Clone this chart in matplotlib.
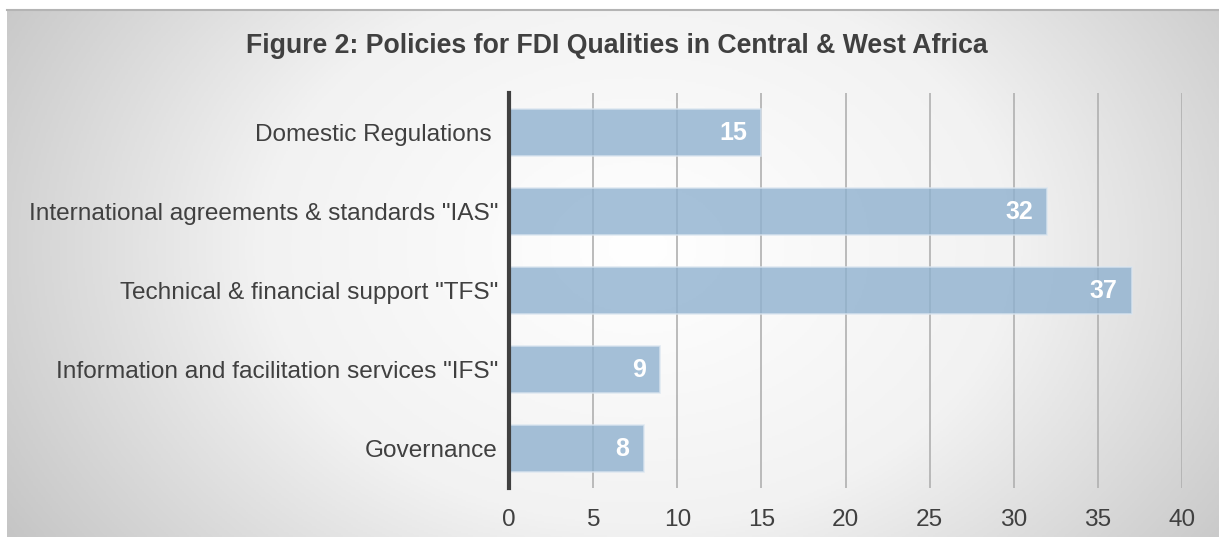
import numpy as np
import matplotlib
matplotlib.use("Agg")
import matplotlib.pyplot as plt
from matplotlib.colors import LinearSegmentedColormap

categories = ["Domestic Regulations ", "International agreements & standards \"IAS\"",
              "Technical & financial support \"TFS\"", "Information and facilitation services \"IFS\"",
              "Governance"]
values = [15, 32, 37, 9, 8]
xticks = [0, 5, 10, 15, 20, 25, 30, 35, 40]
title = "Figure 2: Policies for FDI Qualities in Central & West Africa"

plt.rcParams['font.family'] = ['Liberation Sans', 'DejaVu Sans']

W, H = 1219, 537
fig = plt.figure(figsize=(W / 100, H / 100), dpi=100)
fig.patch.set_facecolor('white')

# background panel with radial gradient
bg = fig.add_axes([7 / W, 0, 1 - 7 / W, 1 - 10 / H], zorder=0)
bg.set_axis_off()
ny, nx = 300, 700
yy, xx = np.mgrid[0:ny, 0:nx]
cx, cy = nx * 0.52, ny * 0.45
r = np.sqrt(((xx - cx) / (nx * 0.62)) ** 2 + ((yy - cy) / (ny * 0.62)) ** 2 * 0.35)
r = np.clip(r, 0, 1)
cmap = LinearSegmentedColormap.from_list("g", ["#ffffff", "#f2f2f2", "#c4c4c4"])
bg.imshow(r, cmap=cmap, aspect='auto', extent=[0, 1, 0, 1], vmin=0, vmax=1)
fig.add_artist(plt.Line2D([7 / W, 1], [1 - 10 / H, 1 - 10 / H], color='#b4b4b4', lw=1.5, transform=fig.transFigure))

ax = fig.add_axes([509 / W, 1 - 488 / H, (1182 - 509) / W, (488 - 93) / H], zorder=1)
ax.patch.set_alpha(0)
ypos = np.arange(len(categories))
ax.barh(ypos, values, height=0.59, color='#8fb1cf', alpha=0.8, edgecolor='#dbe6f0', linewidth=1.2, zorder=3)
for y, v in zip(ypos, values):
    ax.text(v - 0.85, y, str(v), ha='right', va='center', color='white', fontweight='bold', fontsize=18, zorder=4)

ax.set_xlim(0, 40)
ax.set_ylim(len(categories) - 0.5, -0.5)
ax.set_xticks(xticks)
ax.set_xticklabels([str(t) for t in xticks])
ax.set_yticks(ypos)
ax.set_yticklabels(categories)
ax.tick_params(axis='both', length=0, labelsize=17.6, labelcolor='#404040')
ax.tick_params(axis='x', pad=15)
ax.tick_params(axis='y', pad=8)
ax.grid(axis='x', color='#b0b0b0', lw=1.2, zorder=0)
for s in ['top', 'right', 'bottom']:
    ax.spines[s].set_visible(False)
ax.spines['left'].set_color('#404040')
ax.spines['left'].set_linewidth(3)
ax.spines['left'].set_zorder(5)

fig.text(617 / W, 1 - 46 / H, title, ha='center', va='center', fontsize=19.2, fontweight='bold', color='#404040')

fig.savefig("out.png", dpi=100)
